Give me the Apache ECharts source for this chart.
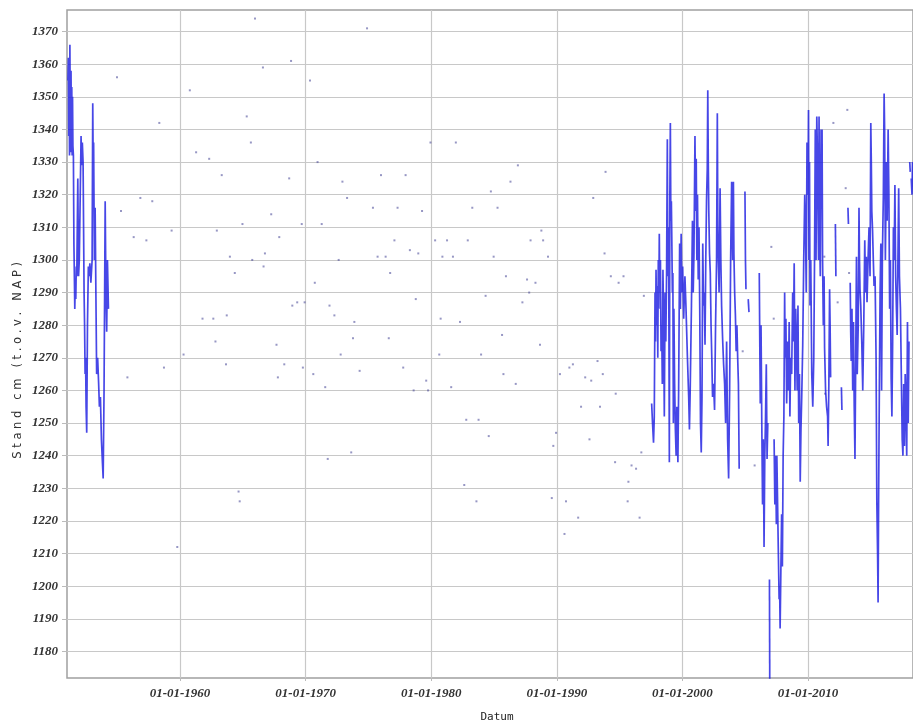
<!DOCTYPE html>
<html>
<head>
<meta charset="utf-8">
<script src="https://cdn.jsdelivr.net/npm/echarts@6/dist/echarts.min.js"></script>
<style>
html,body{margin:0;padding:0;background:#fff;}
#chart{width:913px;height:728px;}
</style>
</head>
<body>
<div id="chart"></div>
<script>
// ---- tick labels ----
const xTickYears = [1960, 1970, 1980, 1990, 2000, 2010];
const yTickLevels = [1180, 1190, 1200, 1210, 1220, 1230, 1240, 1250, 1260, 1270, 1280, 1290, 1300, 1310, 1320, 1330, 1340, 1350, 1360, 1370];

// ---- water level segments [decimal year, level cm NAP] ----
const seg1951 = [[1951.08,1355],[1951.11,1362],[1951.14,1338],[1951.17,1360],[1951.20,1332],[1951.23,1366],[1951.26,1345],[1951.29,1333],[1951.32,1358],[1951.35,1340],[1951.38,1353],[1951.41,1332],[1951.44,1350],[1951.47,1335],[1951.51,1332],[1951.55,1305],[1951.58,1297],[1951.62,1285],[1951.66,1293],[1951.70,1288],[1951.74,1298],[1951.78,1295],[1951.86,1325],[1951.92,1295],[1951.98,1300],[1952.12,1338],[1952.16,1329],[1952.22,1336],[1952.28,1330],[1952.36,1290],[1952.40,1280],[1952.44,1265],[1952.48,1270],[1952.52,1255],[1952.57,1247],[1952.63,1280],[1952.70,1298],[1952.76,1295],[1952.82,1299],[1952.90,1293],[1953.00,1300],[1953.05,1348],[1953.08,1332],[1953.12,1336],[1953.18,1300],[1953.24,1316],[1953.30,1290],[1953.36,1265],[1953.44,1270],[1953.52,1262],[1953.58,1255],[1953.66,1258],[1953.74,1245],[1953.82,1238],[1953.88,1233],[1953.95,1260],[1954.04,1318],[1954.10,1290],[1954.16,1278],[1954.22,1300],[1954.30,1285]];

const seg1997 = [[1997.55,1256],[1997.62,1250],[1997.70,1244],[1997.76,1252],[1997.82,1290],[1997.86,1275],[1997.90,1297],[1997.95,1280],[1998.00,1292],[1998.04,1270],[1998.08,1300],[1998.12,1285],[1998.16,1308],[1998.20,1290],[1998.25,1300],[1998.30,1272],[1998.35,1280],[1998.40,1262],[1998.45,1297],[1998.50,1282],[1998.56,1252],[1998.62,1290],[1998.68,1275],[1998.74,1296],[1998.80,1337],[1998.84,1295],[1998.90,1310],[1998.96,1238],[1999.00,1320],[1999.04,1342],[1999.08,1312],[1999.12,1318],[1999.16,1305],[1999.20,1290],[1999.24,1296],[1999.28,1250],[1999.32,1285],[1999.38,1262],[1999.44,1248],[1999.50,1240],[1999.56,1255],[1999.64,1238],[1999.70,1260],[1999.78,1305],[1999.84,1285],[1999.90,1308],[1999.96,1290],[2000.02,1298],[2000.10,1282],[2000.20,1295],[2000.28,1286],[2000.40,1270],[2000.50,1258],[2000.56,1248],[2000.62,1260],[2000.72,1286],[2000.80,1312],[2000.86,1290],[2000.92,1302],[2001.00,1338],[2001.05,1315],[2001.10,1331],[2001.15,1300],[2001.20,1320],[2001.26,1294],[2001.32,1310],[2001.38,1285],[2001.44,1250],[2001.50,1241],[2001.56,1258],[2001.62,1305],[2001.68,1286],[2001.74,1290],[2001.80,1274],[2001.86,1300],[2001.92,1318],[2001.98,1328],[2002.02,1352],[2002.06,1330],[2002.10,1315],[2002.16,1302],[2002.22,1296],[2002.28,1280],[2002.34,1270],[2002.40,1258],[2002.48,1262],[2002.56,1254],[2002.64,1280],[2002.72,1300],[2002.78,1345],[2002.82,1310],[2002.86,1300],[2002.92,1290],[2003.00,1322],[2003.06,1300],[2003.12,1286],[2003.20,1276],[2003.28,1268],[2003.36,1262],[2003.44,1250],[2003.52,1275],[2003.60,1245],[2003.68,1233],[2003.76,1260],[2003.84,1300],[2003.92,1324],[2004.00,1300],[2004.06,1324],[2004.10,1302],[2004.16,1290],[2004.22,1283],[2004.28,1272],[2004.34,1280],[2004.40,1270],[2004.46,1262],[2004.52,1236]];
const seg2005a = [[2004.98,1321],[2005.02,1300],[2005.06,1291]];
const seg2005b = [[2005.24,1288],[2005.30,1284]];
const seg2006 = [[2006.12,1296],[2006.16,1275],[2006.20,1256],[2006.26,1280],[2006.32,1250],[2006.38,1225],[2006.44,1245],[2006.50,1212],[2006.56,1240],[2006.62,1252],[2006.68,1268],[2006.74,1239],[2006.80,1250]];
const seg2006drop = [[2006.93,1202],[2006.97,1150]];
const seg2007 = [[2007.30,1245],[2007.36,1225],[2007.42,1240],[2007.48,1219],[2007.52,1240],[2007.58,1225],[2007.64,1210],[2007.70,1196],[2007.74,1200],[2007.78,1187],[2007.84,1205],[2007.90,1222],[2007.96,1206],[2008.02,1240],[2008.08,1252],[2008.14,1290],[2008.18,1270],[2008.24,1282],[2008.30,1256],[2008.38,1275],[2008.44,1260],[2008.50,1281],[2008.56,1252],[2008.62,1270],[2008.70,1265],[2008.78,1290],[2008.84,1275],[2008.90,1299],[2008.96,1260],[2009.02,1285],[2009.08,1275],[2009.14,1260],[2009.20,1286],[2009.26,1250],[2009.32,1265],[2009.38,1232],[2009.44,1248],[2009.50,1258],[2009.58,1274],[2009.66,1300],[2009.74,1320],[2009.80,1310],[2009.86,1290],[2009.92,1336],[2010.00,1320],[2010.04,1346],[2010.08,1300],[2010.12,1330],[2010.16,1286],[2010.22,1300],[2010.30,1265],[2010.38,1255],[2010.46,1270],[2010.52,1300],[2010.58,1340],[2010.64,1300],[2010.70,1344],[2010.76,1330],[2010.84,1300],[2010.88,1344],[2010.92,1310],[2010.98,1295],[2011.04,1340],[2011.08,1331],[2011.12,1340],[2011.16,1300],[2011.22,1280],[2011.28,1295],[2011.32,1273],[2011.40,1260],[2011.48,1255],[2011.56,1252],[2011.60,1243],[2011.66,1262],[2011.72,1291],[2011.76,1280],[2011.80,1264]];
const seg2012a = [[2012.18,1311],[2012.22,1295]];
const seg2012b = [[2012.66,1261],[2012.70,1254]];
const seg2013a = [[2013.18,1316],[2013.22,1311]];
const seg2013 = [[2013.36,1293],[2013.40,1278],[2013.44,1269],[2013.50,1285],[2013.56,1260],[2013.62,1281],[2013.68,1255],[2013.74,1239],[2013.80,1270],[2013.86,1301],[2013.92,1265],[2014.00,1280],[2014.06,1316],[2014.10,1300],[2014.14,1291],[2014.20,1286],[2014.28,1275],[2014.36,1260],[2014.44,1280],[2014.52,1306],[2014.58,1290],[2014.64,1301],[2014.70,1287],[2014.78,1300],[2014.86,1310],[2014.94,1295],[2015.00,1342],[2015.04,1330],[2015.08,1315],[2015.14,1309],[2015.20,1300],[2015.26,1292],[2015.34,1295],[2015.42,1270],[2015.48,1226],[2015.54,1210],[2015.58,1195],[2015.62,1225],[2015.68,1260],[2015.74,1290],[2015.80,1305],[2015.86,1260],[2015.92,1300],[2016.00,1320],[2016.06,1351],[2016.10,1340],[2016.16,1300],[2016.24,1330],[2016.30,1312],[2016.38,1340],[2016.44,1320],[2016.50,1285],[2016.56,1300],[2016.62,1264],[2016.68,1252],[2016.74,1275],[2016.80,1310],[2016.86,1300],[2016.92,1323],[2016.98,1295],[2017.04,1285],[2017.10,1277],[2017.16,1300],[2017.22,1322],[2017.28,1295],[2017.36,1285],[2017.44,1262],[2017.50,1245],[2017.56,1240],[2017.62,1262],[2017.68,1243],[2017.74,1265],[2017.80,1255],[2017.86,1240],[2017.92,1281],[2017.98,1250],[2018.04,1275]];
const seg2018a = [[2018.10,1330],[2018.14,1327]];
const seg2018b = [[2018.22,1325],[2018.28,1320],[2018.32,1330]];

// ---- sparse single measurements ----
const singleReadings = [[1954.98,1356],[1955.30,1315],[1955.81,1264],[1956.31,1307],[1956.84,1319],[1957.32,1306],[1957.79,1318],[1958.35,1342],[1958.72,1267],[1959.33,1309],[1959.78,1212],[1960.28,1271],[1960.78,1352],[1961.28,1333],[1961.79,1282],[1962.32,1331],[1962.65,1282],[1962.82,1275],[1962.93,1309],[1963.32,1326],[1963.66,1268],[1963.72,1283],[1963.97,1301],[1964.36,1296],[1964.66,1229],[1964.75,1226],[1964.97,1311],[1965.31,1344],[1965.64,1336],[1965.75,1300],[1965.97,1374],[1966.60,1359],[1966.65,1298],[1966.76,1302],[1967.26,1314],[1967.68,1274],[1967.79,1264],[1967.90,1307],[1968.30,1268],[1968.69,1325],[1968.84,1361],[1968.94,1286],[1969.33,1287],[1969.69,1311],[1969.78,1267],[1969.92,1287],[1970.35,1355],[1970.61,1265],[1970.73,1293],[1970.95,1330],[1971.28,1311],[1971.56,1261],[1971.76,1239],[1971.90,1286],[1972.29,1283],[1972.63,1300],[1972.79,1271],[1972.93,1324],[1973.30,1319],[1973.63,1241],[1973.77,1276],[1973.88,1281],[1974.30,1266],[1974.89,1371],[1975.36,1316],[1975.73,1301],[1976.00,1326],[1976.37,1301],[1976.62,1276],[1976.73,1296],[1977.07,1306],[1977.32,1316],[1977.77,1267],[1977.96,1326],[1978.30,1303],[1978.60,1260],[1978.77,1288],[1978.97,1302],[1979.27,1315],[1979.60,1263],[1979.75,1260],[1979.94,1336],[1980.31,1306],[1980.64,1271],[1980.75,1282],[1980.89,1301],[1981.26,1306],[1981.59,1261],[1981.73,1301],[1981.96,1336],[1982.29,1281],[1982.63,1231],[1982.79,1251],[1982.91,1306],[1983.27,1316],[1983.60,1226],[1983.77,1251],[1983.97,1271],[1984.33,1289],[1984.58,1246],[1984.75,1321],[1984.97,1301],[1985.28,1316],[1985.64,1277],[1985.75,1265],[1985.95,1295],[1986.31,1324],[1986.73,1262],[1986.90,1329],[1987.26,1287],[1987.63,1294],[1987.80,1290],[1987.91,1306],[1988.30,1293],[1988.66,1274],[1988.77,1309],[1988.91,1306],[1989.30,1301],[1989.60,1227],[1989.72,1243],[1989.94,1247],[1990.25,1265],[1990.61,1216],[1990.73,1226],[1991.00,1267],[1991.28,1268],[1991.70,1221],[1991.93,1255],[1992.26,1264],[1992.60,1245],[1992.74,1263],[1992.90,1319],[1993.24,1269],[1993.44,1255],[1993.66,1265],[1993.80,1302],[1993.88,1327],[1994.30,1295],[1994.64,1238],[1994.69,1259],[1994.92,1293],[1995.31,1295],[1995.64,1226],[1995.70,1232],[1995.95,1237],[1996.31,1236],[1996.59,1221],[1996.73,1241],[1996.93,1289],[2004.80,1272],[2005.75,1237],[2007.08,1304],[2007.27,1282],[2011.30,1301],[2011.36,1259],[2012.02,1342],[2012.36,1287],[2013.00,1322],[2013.13,1346],[2013.27,1296]];

const lineSegments = [seg1951, seg1997, seg2005a, seg2005b, seg2006, seg2006drop, seg2007, seg2012a, seg2012b, seg2013a, seg2013, seg2018a, seg2018b];
const yAxisTitle = 'S t a n d   c m   ( t . o . v .   N A P )';

const labelFont = {fontFamily: 'Liberation Serif', fontStyle: 'italic', fontWeight: 'bold', fontSize: 13, color: '#333'};

const series = lineSegments.map(seg => ({
  type: 'line',
  data: seg,
  showSymbol: false,
  symbol: 'none',
  clip: true,
  lineStyle: {color: 'rgba(25,25,225,0.8)', width: 1.7},
  silent: true
}));
series.push({
  type: 'scatter',
  data: singleReadings,
  symbol: 'rect',
  symbolSize: [2, 2],
  itemStyle: {color: 'rgba(70,70,150,0.7)'},
  silent: true
});

const chart = echarts.init(document.getElementById('chart'), null, {renderer: 'canvas'});
chart.setOption({
  animation: false,
  backgroundColor: '#fff',
  grid: {left: 67, right: 0, top: 10, bottom: 48, show: true, borderColor: '#a0a0a0', borderWidth: 1.5, backgroundColor: 'transparent'},
  graphic: [{
    type: 'text',
    left: 12,
    top: 262,
    rotation: Math.PI / 2,
    style: {text: yAxisTitle, fontFamily: 'DejaVu Sans', fontSize: 11.5, fill: '#333'},
    silent: true
  }],
  xAxis: {
    type: 'value',
    min: 1951.0,
    max: 2018.36,
    name: 'Datum',
    nameLocation: 'middle',
    nameGap: 34,
    nameTextStyle: {fontFamily: 'DejaVu Sans Mono', fontSize: 11, color: '#222', padding: [0, 0, 0, 14]},
    axisLine: {show: false},
    axisTick: {show: true, customValues: xTickYears, length: 3, lineStyle: {color: '#bbb'}},
    axisLabel: Object.assign({customValues: xTickYears, margin: 9, formatter: v => '01-01-' + v}, labelFont),
    splitLine: {show: true, lineStyle: {color: '#c8c8c8', width: 1.2}}
  },
  yAxis: {
    type: 'value',
    min: 1171.84,
    max: 1376.62,
    axisLine: {show: false},
    axisTick: {show: true, customValues: yTickLevels, length: 5, lineStyle: {color: '#bbb'}},
    axisLabel: Object.assign({customValues: yTickLevels, margin: 9, formatter: v => String(v)}, labelFont),
    splitLine: {show: true, lineStyle: {color: '#c8c8c8', width: 1.2}}
  },
  series: series
});
</script>
</body>
</html>
